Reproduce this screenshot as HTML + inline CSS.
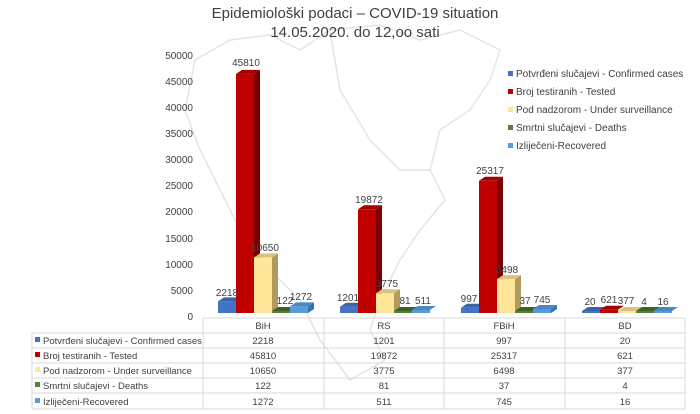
<!DOCTYPE html>
<html><head><meta charset="utf-8"><style>
body{margin:0;background:#fff}
svg{display:block;font-family:"Liberation Sans",sans-serif}
</style></head><body>
<svg width="700" height="414" viewBox="0 0 700 414" xmlns="http://www.w3.org/2000/svg">
<rect width="700" height="414" fill="#fff"/>
<g fill="none" stroke="#e4e4e4" stroke-width="1.5">
<path d="M195 60 L230 40 L270 35 L300 50 L330 30 L380 25 L420 40 L460 30 L500 50 L490 80 L470 110 L440 130 L430 170 L445 200 L420 230 L400 260 L380 300 L370 330 L385 360 L350 380 L320 340 L300 300 L270 270 L240 230 L220 190 L200 150 L185 110 Z"/>
<path d="M330 30 L340 90 L370 140 L400 170 L430 170"/>
</g>
<g text-anchor="middle" fill="#404040" font-size="15">
<text x="355" y="18">Epidemiološki podaci – COVID-19 situation</text>
<text x="355" y="37">14.05.2020. do 12,oo sati</text>
</g>
<g text-anchor="end" fill="#404040" font-size="10">
<text x="193" y="59">50000</text><text x="193" y="85">45000</text><text x="193" y="111">40000</text><text x="193" y="137">35000</text><text x="193" y="163">30000</text><text x="193" y="189">25000</text><text x="193" y="215">20000</text><text x="193" y="242">15000</text><text x="193" y="268">10000</text><text x="193" y="294">5000</text><text x="193" y="320">0</text>
</g>
<g id="bars">
<rect x="218" y="301.4" width="18" height="11.6" fill="#4472C4"/><polygon points="236,301.4 242,297.4 242,309 236,313" fill="#2F5597"/><polygon points="218,301.4 224,297.4 242,297.4 236,301.4" fill="#3A63AE"/>
<rect x="236" y="73.9" width="18" height="239.1" fill="#C00000"/><polygon points="254,73.9 260,69.9 260,309 254,313" fill="#7A0000"/><polygon points="236,73.9 242,69.9 260,69.9 254,73.9" fill="#A00000"/>
<rect x="254" y="257.4" width="18" height="55.6" fill="#FFE699"/><polygon points="272,257.4 278,253.4 278,309 272,313" fill="#B09A5E"/><polygon points="254,257.4 260,253.4 278,253.4 272,257.4" fill="#D9C27F"/>
<rect x="272" y="311" width="18" height="2" fill="#548235"/><polygon points="272,311 278,307 296,307 290,311" fill="#3E6327"/>
<rect x="290" y="306.4" width="18" height="6.6" fill="#5B9BD5"/><polygon points="308,306.4 314,302.4 314,309 308,313" fill="#2E75B6"/><polygon points="290,306.4 296,302.4 314,302.4 308,306.4" fill="#4A88C4"/>
<rect x="340" y="306.7" width="18" height="6.3" fill="#4472C4"/><polygon points="358,306.7 364,302.7 364,309 358,313" fill="#2F5597"/><polygon points="340,306.7 346,302.7 364,302.7 358,306.7" fill="#3A63AE"/>
<rect x="358" y="209.3" width="18" height="103.7" fill="#C00000"/><polygon points="376,209.3 382,205.3 382,309 376,313" fill="#7A0000"/><polygon points="358,209.3 364,205.3 382,205.3 376,209.3" fill="#A00000"/>
<rect x="376" y="293.3" width="18" height="19.7" fill="#FFE699"/><polygon points="394,293.3 400,289.3 400,309 394,313" fill="#B09A5E"/><polygon points="376,293.3 382,289.3 400,289.3 394,293.3" fill="#D9C27F"/>
<rect x="394" y="311" width="18" height="2" fill="#548235"/><polygon points="394,311 400,307 418,307 412,311" fill="#3E6327"/>
<rect x="412" y="310" width="18" height="3" fill="#5B9BD5"/><polygon points="412,310 418,306 436,306 430,310" fill="#4A88C4"/>
<rect x="461" y="307.8" width="18" height="5.2" fill="#4472C4"/><polygon points="461,307.8 467,303.8 485,303.8 479,307.8" fill="#3A63AE"/>
<rect x="479" y="180.8" width="18" height="132.2" fill="#C00000"/><polygon points="497,180.8 503,176.8 503,309 497,313" fill="#7A0000"/><polygon points="479,180.8 485,176.8 503,176.8 497,180.8" fill="#A00000"/>
<rect x="497" y="279.1" width="18" height="33.9" fill="#FFE699"/><polygon points="515,279.1 521,275.1 521,309 515,313" fill="#B09A5E"/><polygon points="497,279.1 503,275.1 521,275.1 515,279.1" fill="#D9C27F"/>
<rect x="515" y="311" width="18" height="2" fill="#548235"/><polygon points="515,311 521,307 539,307 533,311" fill="#3E6327"/>
<rect x="533" y="309" width="18" height="4" fill="#5B9BD5"/><polygon points="533,309 539,305 557,305 551,309" fill="#4A88C4"/><polygon points="551,309 557,305 557,309 551,313" fill="#2E75B6"/>
<rect x="582" y="311" width="18" height="2" fill="#4472C4"/><polygon points="582,311 588,307 606,307 600,311" fill="#3A63AE"/>
<rect x="600" y="309.8" width="18" height="3.2" fill="#C00000"/><polygon points="600,309.8 606,305.8 624,305.8 618,309.8" fill="#A00000"/>
<rect x="618" y="311" width="18" height="2" fill="#FFE699"/><polygon points="618,311 624,307 642,307 636,311" fill="#D9C27F"/>
<rect x="636" y="311" width="18" height="2" fill="#548235"/><polygon points="636,311 642,307 660,307 654,311" fill="#3E6327"/>
<rect x="654" y="311" width="18" height="2" fill="#5B9BD5"/><polygon points="654,311 660,307 678,307 672,311" fill="#4A88C4"/>
</g>
<g text-anchor="middle" fill="#404040" font-size="10">
<text x="227" y="296">2218</text><text x="246" y="66">45810</text><text x="265" y="251">10650</text><text x="285" y="304">122</text><text x="301" y="300">1272</text>
<text x="348" y="301">1201</text><text x="369" y="203">19872</text><text x="387" y="287">3775</text><text x="405" y="304">81</text><text x="423" y="304">511</text>
<text x="469" y="302">997</text><text x="490" y="174">25317</text><text x="507" y="273">6498</text><text x="525" y="304">37</text><text x="542" y="303">745</text>
<text x="590" y="305">20</text><text x="609" y="303">621</text><text x="626" y="304">377</text><text x="644" y="305">4</text><text x="663" y="305">16</text>
</g>
<g font-size="10" fill="#404040">
<rect x="508" y="71" width="5" height="5" fill="#4472C4"/><text x="516" y="77">Potvrđeni slučajevi - Confirmed cases</text>
<rect x="508" y="89" width="5" height="5" fill="#C00000"/><text x="516" y="95">Broj testiranih - Tested</text>
<rect x="508" y="107" width="5" height="5" fill="#FFE699"/><text x="516" y="113">Pod nadzorom - Under surveillance</text>
<rect x="508" y="125" width="5" height="5" fill="#548235"/><text x="516" y="131">Smrtni slučajevi - Deaths</text>
<rect x="508" y="143" width="5" height="5" fill="#5B9BD5"/><text x="516" y="149">Izliječeni-Recovered</text>
</g>
<g stroke="#d9d9d9" stroke-width="1">
<line x1="203" y1="318" x2="685" y2="318"/>
<line x1="32" y1="333" x2="685" y2="333"/><line x1="32" y1="348" x2="685" y2="348"/><line x1="32" y1="363" x2="685" y2="363"/><line x1="32" y1="378" x2="685" y2="378"/><line x1="32" y1="393" x2="685" y2="393"/><line x1="32" y1="409" x2="685" y2="409"/>
<line x1="32" y1="333" x2="32" y2="409"/><line x1="203" y1="318" x2="203" y2="409"/><line x1="324" y1="318" x2="324" y2="409"/><line x1="444" y1="318" x2="444" y2="409"/><line x1="565" y1="318" x2="565" y2="409"/><line x1="685" y1="318" x2="685" y2="409"/>
</g>
<g font-size="9.5" fill="#404040" text-anchor="middle">
<text x="263" y="329">BiH</text><text x="384" y="329">RS</text><text x="504" y="329">FBiH</text><text x="625" y="329">BD</text>
<text x="263" y="344">2218</text><text x="384" y="344">1201</text><text x="504" y="344">997</text><text x="625" y="344">20</text>
<text x="263" y="359">45810</text><text x="384" y="359">19872</text><text x="504" y="359">25317</text><text x="625" y="359">621</text>
<text x="263" y="374">10650</text><text x="384" y="374">3775</text><text x="504" y="374">6498</text><text x="625" y="374">377</text>
<text x="263" y="389">122</text><text x="384" y="389">81</text><text x="504" y="389">37</text><text x="625" y="389">4</text>
<text x="263" y="405">1272</text><text x="384" y="405">511</text><text x="504" y="405">745</text><text x="625" y="405">16</text>
</g>
<g font-size="9.5" fill="#404040">
<rect x="35" y="337" width="5" height="5" fill="#4472C4"/><text x="43" y="344">Potvrđeni slučajevi - Confirmed cases</text>
<rect x="35" y="352" width="5" height="5" fill="#C00000"/><text x="43" y="359">Broj testiranih - Tested</text>
<rect x="35" y="367" width="5" height="5" fill="#FFE699"/><text x="43" y="374">Pod nadzorom - Under surveillance</text>
<rect x="35" y="382" width="5" height="5" fill="#548235"/><text x="43" y="389">Smrtni slučajevi - Deaths</text>
<rect x="35" y="398" width="5" height="5" fill="#5B9BD5"/><text x="43" y="405">Izliječeni-Recovered</text>
</g>
</svg>
</body></html>
